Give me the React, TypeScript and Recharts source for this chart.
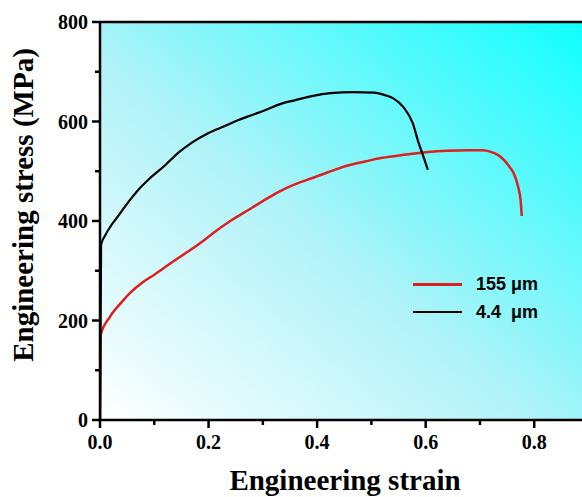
import React from 'react';
import {
  LineChart,
  Line,
  XAxis,
  YAxis,
  CartesianGrid,
  ReferenceLine,
  Legend,
  Label,
} from 'recharts';

// Tensile curves for the two grain sizes
const strainCoarse = [0, 0.001, 0.018, 0.04, 0.055, 0.08, 0.1, 0.13, 0.16, 0.19, 0.21, 0.24, 0.27, 0.3, 0.33, 0.36, 0.39, 0.42, 0.455, 0.49, 0.52, 0.56, 0.6, 0.64, 0.68, 0.705, 0.72, 0.733, 0.745, 0.755, 0.763, 0.77, 0.775, 0.777];
const stressCoarse = [0, 170, 207, 237, 255, 278, 292, 315, 337, 360, 377, 400, 420, 440, 459, 474, 486, 498, 511, 520, 527, 533, 538, 541, 542, 542, 539, 533, 522, 508, 494, 470, 440, 410];

const strainFine = [0, 0.002, 0.01, 0.02, 0.03, 0.04, 0.055, 0.07, 0.09, 0.12, 0.144, 0.17, 0.2, 0.23, 0.255, 0.28, 0.305, 0.332, 0.36, 0.39, 0.425, 0.467, 0.505, 0.525, 0.541, 0.559, 0.576, 0.587, 0.596, 0.604];
const stressFine = [0, 352, 372, 390, 405, 420, 442, 462, 484, 512, 537, 558, 577, 591, 603, 613, 623, 635, 643, 651, 657, 659, 658, 653, 646, 629, 597, 557, 529, 503];

const xTicks = [0, 0.1, 0.2, 0.3, 0.4, 0.5, 0.6, 0.7, 0.8];
const yTicks = [0, 100, 200, 300, 400, 500, 600, 700, 800];

const seriesNames = ['155 \u03bcm', '4.4  \u03bcm'];
const seriesColors = ['#dc1f1f', '#000000'];

const coarseData = strainCoarse.map((x, i) => ({ x, y: stressCoarse[i] }));
const fineData = strainFine.map((x, i) => ({ x, y: stressFine[i] }));

const serif = "'Times New Roman', 'Liberation Serif', serif";
const sans = "Arial, 'Liberation Sans', sans-serif";

const XTick = (props: any) => {
  const { x, y, payload } = props;
  const major = Math.round(payload.value * 10) % 2 === 0;
  return (
    <g>
      <line x1={x} x2={x} y1={y} y2={y + (major ? 8 : 5)} stroke="#000" strokeWidth={2.5} />
      {major && (
        <text x={x} y={y + 29} textAnchor="middle" fontFamily={serif} fontWeight="bold" fontSize={20} fill="#000">
          {payload.value.toFixed(1)}
        </text>
      )}
    </g>
  );
};

const YTick = (props: any) => {
  const { x, y, payload } = props;
  const major = payload.value % 200 === 0;
  return (
    <g>
      <line x1={x - (major ? 8 : 5)} x2={x} y1={y} y2={y} stroke="#000" strokeWidth={2.5} />
      {major && (
        <text x={x - 12} y={y + 7} textAnchor="end" fontFamily={serif} fontWeight="bold" fontSize={20} fill="#000">
          {payload.value}
        </text>
      )}
    </g>
  );
};

const LegendBox = () => (
  <div style={{ fontFamily: sans, fontWeight: 'bold', fontSize: 18, color: '#000' }}>
    {seriesNames.map((name, i) => (
      <div key={name} style={{ display: 'flex', alignItems: 'center', height: 28 }}>
        <div style={{ width: 49, height: i === 0 ? 3 : 2, background: seriesColors[i], marginRight: 14 }} />
        <span style={{ whiteSpace: 'pre' }}>{name}</span>
      </div>
    ))}
  </div>
);

export default function App() {
  return (
    <div style={{ position: 'absolute', left: 0, top: 0, background: '#fff' }}>
      <LineChart width={582} height={497} margin={{ top: 22, right: 0, bottom: 0, left: 0 }}>
        <defs>
          <linearGradient id="bg" x1="0" y1="1" x2="1" y2="0">
            <stop offset="0%" stopColor="#ffffff" />
            <stop offset="45%" stopColor="#b0f3f8" />
            <stop offset="100%" stopColor="#10ffff" />
          </linearGradient>
        </defs>
        <CartesianGrid horizontal={false} vertical={false} fill="url(#bg)" />
        <XAxis
          type="number"
          dataKey="x"
          domain={[0, 0.888]}
          allowDataOverflow
          ticks={xTicks}
          interval={0}
          height={77}
          tickSize={0}
          tickMargin={0}
          tick={<XTick />}
          axisLine={{ stroke: '#000', strokeWidth: 2.5 }}
        >
          <Label
            value="Engineering strain"
            position="insideBottom"
            offset={7}
            dx={4}
            style={{ fontFamily: serif, fontWeight: 'bold', fontSize: 29, fill: '#000' }}
          />
        </XAxis>
        <YAxis
          type="number"
          dataKey="y"
          domain={[0, 800]}
          ticks={yTicks}
          interval={0}
          width={100}
          tickSize={0}
          tickMargin={0}
          tick={<YTick />}
          axisLine={{ stroke: '#000', strokeWidth: 2.5 }}
        >
          <Label
            content={() => (
              <text
                x={33}
                y={205}
                transform="rotate(-90, 33, 205)"
                textAnchor="middle"
                fontFamily={serif}
                fontWeight="bold"
                fontSize={29}
                fill="#000"
              >
                Engineering stress (MPa)
              </text>
            )}
          />
        </YAxis>
        <ReferenceLine y={800} stroke="#000" strokeWidth={2.5} />
        <Line
          data={coarseData}
          dataKey="y"
          type="monotone"
          stroke={seriesColors[0]}
          strokeWidth={2.5}
          dot={false}
          isAnimationActive={false}
        />
        <Line
          data={fineData}
          dataKey="y"
          type="monotone"
          stroke={seriesColors[1]}
          strokeWidth={2.2}
          dot={false}
          isAnimationActive={false}
        />
        <Legend
          content={<LegendBox />}
          layout="vertical"
          align="center"
          verticalAlign="middle"
          wrapperStyle={{ left: 413, top: 270, width: 150 }}
        />
      </LineChart>
    </div>
  );
}
